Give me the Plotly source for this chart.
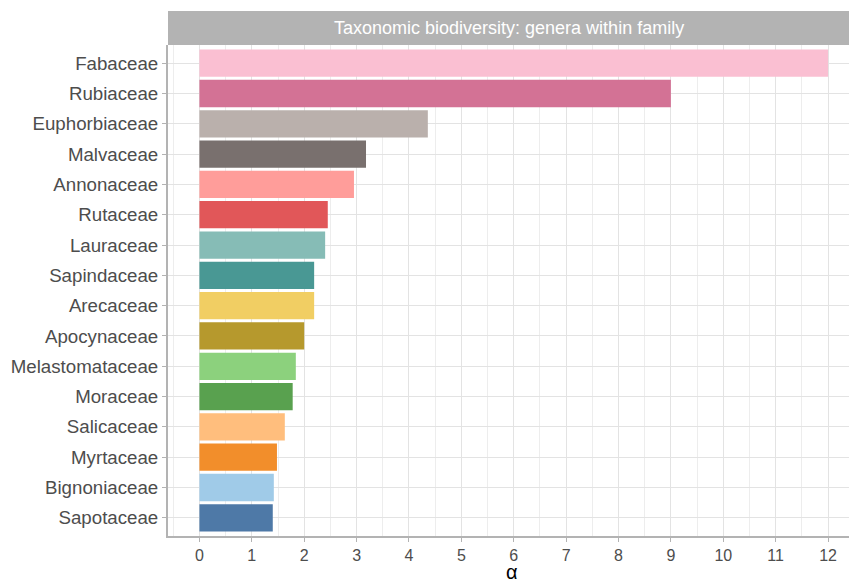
import plotly.graph_objects as go

families = ["Fabaceae", "Rubiaceae", "Euphorbiaceae", "Malvaceae", "Annonaceae", "Rutaceae",
            "Lauraceae", "Sapindaceae", "Arecaceae", "Apocynaceae", "Melastomataceae",
            "Moraceae", "Salicaceae", "Myrtaceae", "Bignoniaceae", "Sapotaceae"]
alpha = [12.0, 9.0, 4.36, 3.18, 2.95, 2.45, 2.40, 2.19, 2.19, 2.0, 1.84, 1.78, 1.63, 1.48, 1.42, 1.40]
colors = ["#FABFD2", "#D37295", "#BAB0AC", "#79706E", "#FF9D9A", "#E15759", "#86BCB6", "#499894",
          "#F1CE63", "#B6992D", "#8CD17D", "#59A14F", "#FFBE7D", "#F28E2B", "#A0CBE8", "#4E79A7"]
strip_title = "Taxonomic biodiversity: genera within family"
x_title = "α"
x_ticks = list(range(0, 13))

sans = "Liberation Sans, Arial, sans-serif"

fig = go.Figure(go.Bar(
    x=alpha, y=families, orientation="h", width=0.9,
    marker=dict(color=colors, line=dict(width=0)),
))

n = len(families)
fig.update_layout(
    template="none",
    width=849, height=581,
    margin=dict(l=168, r=0, t=45, b=45),
    paper_bgcolor="white", plot_bgcolor="white",
    font=dict(family=sans, size=15, color="#4d4d4d"),
    showlegend=False,
    bargap=0.1,
    xaxis=dict(
        automargin=False,
        range=[-0.6, 12.4], tickvals=x_ticks, ticktext=[str(v) for v in x_ticks],
        showgrid=True, gridcolor="#e3e3e3", gridwidth=1,
        minor=dict(dtick=0.5, tick0=0, showgrid=True, gridcolor="#ededed", gridwidth=1),
        zeroline=False, showline=True, linecolor="#b3b3b3", linewidth=2,
        ticks="outside", ticklen=4, tickcolor="#b3b3b3", tickwidth=1,
        tickfont=dict(family=sans, size=16, color="#4d4d4d"),
    ),
    yaxis=dict(
        automargin=False,
        categoryorder="array", categoryarray=families,
        range=[n - 0.4, -0.6],
        showgrid=True, gridcolor="#e3e3e3", gridwidth=1,
        zeroline=False, showline=True, linecolor="#b3b3b3", linewidth=2,
        ticks="outside", ticklen=4, tickcolor="#b3b3b3", tickwidth=1,
        tickfont=dict(family=sans, size=18.7, color="#4d4d4d"),
    ),
    shapes=[dict(type="rect", xref="paper", yref="paper", x0=0, x1=1, y0=1, y1=1 + 34 / 491,
                 fillcolor="#b3b3b3", line=dict(width=0), layer="above")],
    annotations=[
        dict(text=strip_title, xref="paper", yref="paper", x=0.5, y=1 + 17 / 491,
             xanchor="center", yanchor="middle", showarrow=False,
             font=dict(family=sans, size=18, color="white")),
        dict(text=x_title, xref="paper", yref="paper", x=0.505, y=-23 / 491,
             xanchor="center", yanchor="top", showarrow=False,
             font=dict(family=sans, size=20, color="#000000")),
    ],
)

fig.write_html("out.html", config={"displayModeBar": False},
               post_script="document.body.style.margin='0px';")
